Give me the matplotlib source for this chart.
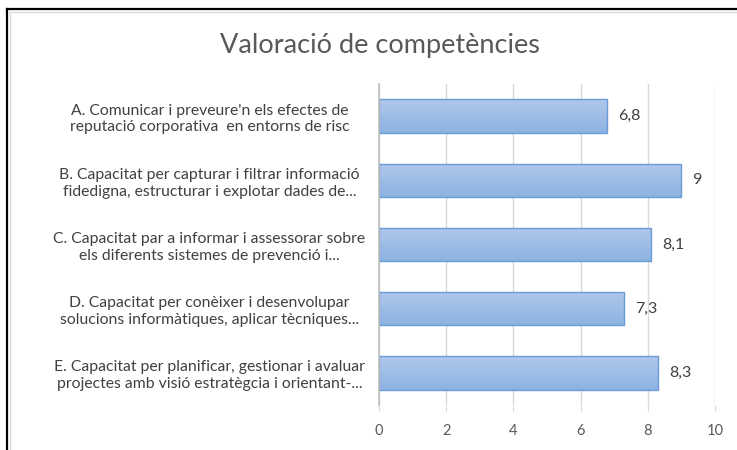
import matplotlib.pyplot as plt
import numpy as np
from matplotlib.colors import LinearSegmentedColormap
from matplotlib.lines import Line2D

plt.rcParams['font.family'] = ['Lato', 'DejaVu Sans']

title = 'Valoració de competències'
labels = [
    "A. Comunicar i preveure'n els efectes de\nreputació corporativa  en entorns de risc",
    "B. Capacitat per capturar i filtrar informació\nfidedigna, estructurar i explotar dades de...",
    "C. Capacitat par a informar i assessorar sobre\nels diferents sistemes de prevenció i...",
    "D. Capacitat per conèixer i desenvolupar\nsolucions informàtiques, aplicar tècniques...",
    "E. Capacitat per planificar, gestionar i avaluar\nprojectes amb visió estratègcia i orientant-...",
]
values = [6.8, 9, 8.1, 7.3, 8.3]
value_text = ['6,8', '9', '8,1', '7,3', '8,3']
xticks = [0, 2, 4, 6, 8, 10]

fig = plt.figure(figsize=(7.37, 4.5), dpi=100)
ax = fig.add_axes([379/737, 1 - 405/450, (715 - 379)/737, (405 - 84)/450])

ypos = np.arange(len(values))
bars = ax.barh(ypos, values, height=0.52, color='none', edgecolor='#6b9bd6', linewidth=1.0, zorder=3)

# vertical gradient fill, like the office chart
cmap = LinearSegmentedColormap.from_list('g', ['#b0c8ea', '#8db3e2'])
grad = np.linspace(0, 1, 64).reshape(-1, 1)
for b in bars:
    x0, y0, w, h = b.get_x(), b.get_y(), b.get_width(), b.get_height()
    im = ax.imshow(grad, cmap=cmap, aspect='auto', extent=(x0, x0 + w, y0 + h, y0), zorder=2)
    im.set_clip_path(b)

for b, t in zip(bars, value_text):
    ax.text(b.get_width() + 0.33, b.get_y() + b.get_height()/2, t, va='center', ha='left',
            fontsize=11.5, color='#404040')

ax.set_xlim(0, 10)
ax.set_ylim(len(values) - 0.5, -0.5)
ax.set_xticks(xticks)
ax.set_xticklabels([str(v) for v in xticks], fontsize=10.5, color='#595959')
ax.set_yticks(ypos)
ax.set_yticklabels(labels, fontsize=11.3, color='#404040', ha='center', ma='center', linespacing=1.25)
ax.tick_params(axis='y', length=0, pad=122)
ax.tick_params(axis='x', length=4, color='#d9d9d9', pad=10)
ax.grid(axis='x', color='#d9d9d9', linewidth=1, zorder=0)
ax.set_axisbelow(True)
for s in ['top', 'right', 'bottom']:
    ax.spines[s].set_visible(False)
ax.spines['left'].set_color('#bfbfbf')
ax.spines['left'].set_linewidth(1.2)
ax.spines['left'].set_zorder(4)

fig.text(380/737, 1 - 45/450, title, ha='center', va='center', fontsize=19.5, color='#595959')

# outer frame (black) with light gray inner shadow
fig.add_artist(Line2D([7/737, 7/737], [0, 1 - 9/450], color='black', lw=1.6))
fig.add_artist(Line2D([7/737, 1], [1 - 9/450, 1 - 9/450], color='black', lw=1.6))
fig.add_artist(Line2D([9.5/737, 9.5/737], [0, 1 - 11.5/450], color='#d9d9d9', lw=1.0))
fig.add_artist(Line2D([9.5/737, 1], [1 - 11.5/450, 1 - 11.5/450], color='#d9d9d9', lw=1.0))

fig.savefig('out.png', dpi=100, facecolor='white')
